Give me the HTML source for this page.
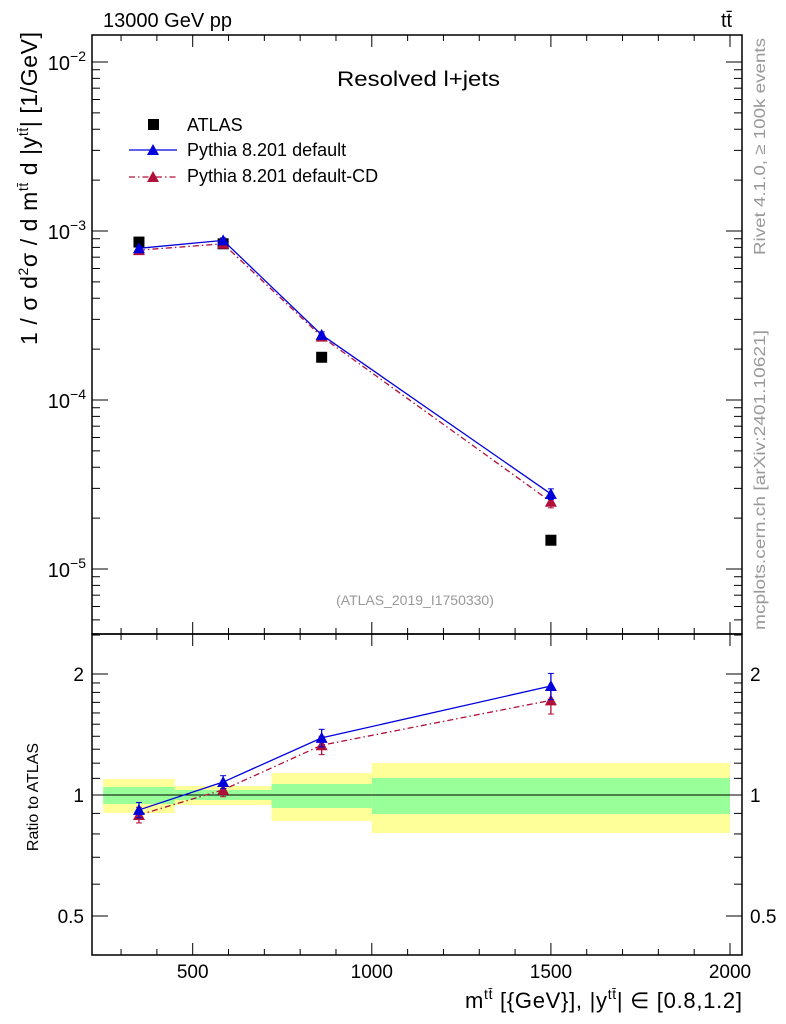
<!DOCTYPE html>
<html><head><meta charset="utf-8"><style>
body{margin:0;background:#fff;}
svg{display:block;font-family:"Liberation Sans",sans-serif;}
</style></head><body>
<svg id="chart" width="786" height="1024" xmlns="http://www.w3.org/2000/svg">
<g id="g"></g>
</svg>
<script>
const binEdges=[250,450,720,1000,2000];
const xCenters=[350,585,860,1500];
const atlasVals=[8.6e-4,8.4e-4,1.79e-4,1.48e-5];
const pyVals=[7.9e-4,8.8e-4,2.43e-4,2.78e-5];
const pyErr=[0.2e-4,0.3e-4,0.1e-4,0.2e-5];
const cdVals=[7.7e-4,8.4e-4,2.37e-4,2.5e-5];
const cdErr=[0.2e-4,0.3e-4,0.1e-4,0.2e-5];
const pyRatio=[0.918,1.077,1.387,1.867];
const pyRatioErr=[0.04,0.04,0.07,0.14];
const cdRatio=[0.892,1.03,1.33,1.72];
const cdRatioErr=[0.04,0.04,0.07,0.13];
const greenLo=[0.95,0.972,0.928,0.897];
const greenHi=[1.047,1.029,1.065,1.102];
const yellowLo=[0.902,0.944,0.862,0.804];
const yellowHi=[1.096,1.053,1.134,1.201];
const xTicks=[500,1000,1500,2000];
const yTickExp=[-2,-3,-4,-5];
const rTicks=[0.5,1,2];

const L=92,R=742,T=35,M=634,B=955;
const X=v=>192.7+(v-500)*0.3582;
const Y=v=>231+(-3-Math.log10(v))*169;
const RY=v=>795-Math.log2(v)*121;
const NS="http://www.w3.org/2000/svg";
const g=document.getElementById('g');
function el(t,a,txt){const e=document.createElementNS(NS,t);for(const k in a)e.setAttribute(k,a[k]);if(txt!==undefined)e.textContent=txt;g.appendChild(e);return e;}

for(let i=0;i<4;i++){
 let e=el('rect',{x:X(binEdges[i]),y:RY(yellowHi[i]),width:X(binEdges[i+1])-X(binEdges[i]),height:RY(yellowLo[i])-RY(yellowHi[i]),fill:'#ffff99'});
 
 
 e=el('rect',{x:X(binEdges[i]),y:RY(greenHi[i]),width:X(binEdges[i+1])-X(binEdges[i]),height:RY(greenLo[i])-RY(greenHi[i]),fill:'#99ff99'});
 
 
}
el('line',{x1:L,x2:R,y1:RY(1),y2:RY(1),stroke:'#000','stroke-width':1});

let f=el('rect',{x:L,y:T,width:R-L,height:M-T,fill:'none',stroke:'#000','stroke-width':1.5});


f=el('rect',{x:L,y:M,width:R-L,height:B-M,fill:'none',stroke:'#000','stroke-width':1.5});



for(let v=300;v<=2000;v+=100){
 const maj=v%500===0, x=X(v), l=maj?12:6;
 [[T,1],[M,-1],[M,1],[B,-1]].forEach(([y,d])=>el('line',{x1:x,x2:x,y1:y,y2:y+d*l,stroke:'#000','stroke-width':1}));
}
xTicks.forEach(v=>{const t=el('text',{x:X(v),y:978,'font-size':19,'text-anchor':'middle'},String(v));
 
 });

for(let e=-6;e<=-2;e++)for(let m=1;m<10;m++){
 const v=m*Math.pow(10,e),y=Y(v); if(y<T||y>M)continue;
 const l=m===1?16:8;
 el('line',{x1:L,x2:L+l,y1:y,y2:y,stroke:'#000'});
 el('line',{x1:R,x2:R-l,y1:y,y2:y,stroke:'#000'});
}
yTickExp.forEach(e=>{const t=el('text',{x:86,y:Y(Math.pow(10,e))+8,'font-size':20,'text-anchor':'end'});
 
 
 t.innerHTML='10<tspan dy="-9" font-size="14">−'+(-e)+'</tspan>';});

[0.4,0.5,0.6,0.7,0.8,0.9,1,1.1,1.2,1.3,1.4,1.5,1.6,1.7,1.8,1.9,2,2.5].forEach(v=>{
 const y=RY(v);if(y<M||y>B)return;const l=rTicks.includes(v)?16:8;
 el('line',{x1:L,x2:L+l,y1:y,y2:y,stroke:'#000'});el('line',{x1:R,x2:R-l,y1:y,y2:y,stroke:'#000'});});
rTicks.forEach(v=>{let t=el('text',{x:84,y:RY(v)+7,'font-size':19,'text-anchor':'end'},String(v));
 
 t=el('text',{x:750,y:RY(v)+7,'font-size':19},String(v));
 });

function tri(x,y,c,name){const e=el('path',{d:`M${x-6},${y+5}L${x+6},${y+5}L${x},${y-6}Z`,fill:c});
 }
function series(vals,err,yf,c,dash,name){
 const pts=vals.map((v,i)=>X(xCenters[i])+','+yf(v)).join(' ');
 const p=el('polyline',{points:pts,fill:'none',stroke:c,'stroke-width':1.3});
 if(dash)p.setAttribute('stroke-dasharray',dash);
 
 vals.forEach((v,i)=>{const x=X(xCenters[i]),y1=yf(v+err[i]),y2=yf(v-err[i]);
  el('line',{x1:x,x2:x,y1:y1,y2:y2,stroke:c,'stroke-width':1.3});
  el('line',{x1:x-3,x2:x+3,y1:y1,y2:y1,stroke:c});el('line',{x1:x-3,x2:x+3,y1:y2,y2:y2,stroke:c});
  tri(x,yf(v),c,name+'-point');});
}
atlasVals.forEach((v,i)=>{const e=el('rect',{x:X(xCenters[i])-5.5,y:Y(v)-5.5,width:11,height:11,fill:'#000'});
 });
series(cdVals,cdErr,Y,'#b0103a','6,3,1.5,3','pythia-cd');
series(pyVals,pyErr,Y,'#0000dd',null,'pythia-default');
series(cdRatio,cdRatioErr,RY,'#b0103a','6,3,1.5,3','ratio-pythia-cd');
series(pyRatio,pyRatioErr,RY,'#0000dd',null,'ratio-pythia-default');
</script>
<svg style="position:absolute;left:0;top:0" width="786" height="1024" xmlns="http://www.w3.org/2000/svg" font-family="Liberation Sans, sans-serif">
<text x="103" y="27" font-size="20">13000 GeV pp</text>
<text x="721" y="27" font-size="20">tt̄</text>
<text x="337" y="86" font-size="21" textLength="163" lengthAdjust="spacingAndGlyphs">Resolved l+jets</text>
<g>
<rect x="148" y="119" width="11" height="11" fill="#000"/>
<text x="187" y="131" font-size="18">ATLAS</text>
<line x1="129" x2="177" y1="150" y2="150" stroke="#0000dd" stroke-width="1.3"/>
<path d="M147,155L159,155L153,144Z" fill="#0000dd"/>
<text x="187" y="156" font-size="18">Pythia 8.201 default</text>
<line x1="129" x2="177" y1="177" y2="177" stroke="#b0103a" stroke-width="1.3" stroke-dasharray="6,3,1.5,3"/>
<path d="M147,182L159,182L153,171Z" fill="#b0103a"/>
<text x="187" y="182" font-size="18">Pythia 8.201 default-CD</text>
</g>
<text x="415" y="605" font-size="14" fill="#999" text-anchor="middle">(ATLAS_2019_I1750330)</text>
<text transform="translate(37,345) rotate(-90)" font-size="23" textLength="313" lengthAdjust="spacing">1 / σ d<tspan dy="-9" font-size="14">2</tspan><tspan dy="9">σ / d m</tspan><tspan dy="-9" font-size="14">tt̄</tspan><tspan dy="9"> d |y</tspan><tspan dy="-9" font-size="14">tt̄</tspan><tspan dy="9">| [1/GeV]</tspan></text>
<text transform="translate(38,797) rotate(-90)" font-size="16" text-anchor="middle">Ratio to ATLAS</text>
<text x="465" y="1008" font-size="22" textLength="277" lengthAdjust="spacing">m<tspan dy="-9" font-size="14">tt̄</tspan><tspan dy="9"> [{GeV}], |y</tspan><tspan dy="-9" font-size="14">tt̄</tspan><tspan dy="9">| ∈ [0.8,1.2]</tspan></text>
<text transform="translate(765,255) rotate(-90)" font-size="16" fill="#999" textLength="217" lengthAdjust="spacingAndGlyphs">Rivet 4.1.0, ≥ 100k events</text>
<text transform="translate(765,630) rotate(-90)" font-size="16" fill="#999" textLength="300" lengthAdjust="spacingAndGlyphs">mcplots.cern.ch [arXiv:2401.10621]</text>
</svg>
</body></html>
